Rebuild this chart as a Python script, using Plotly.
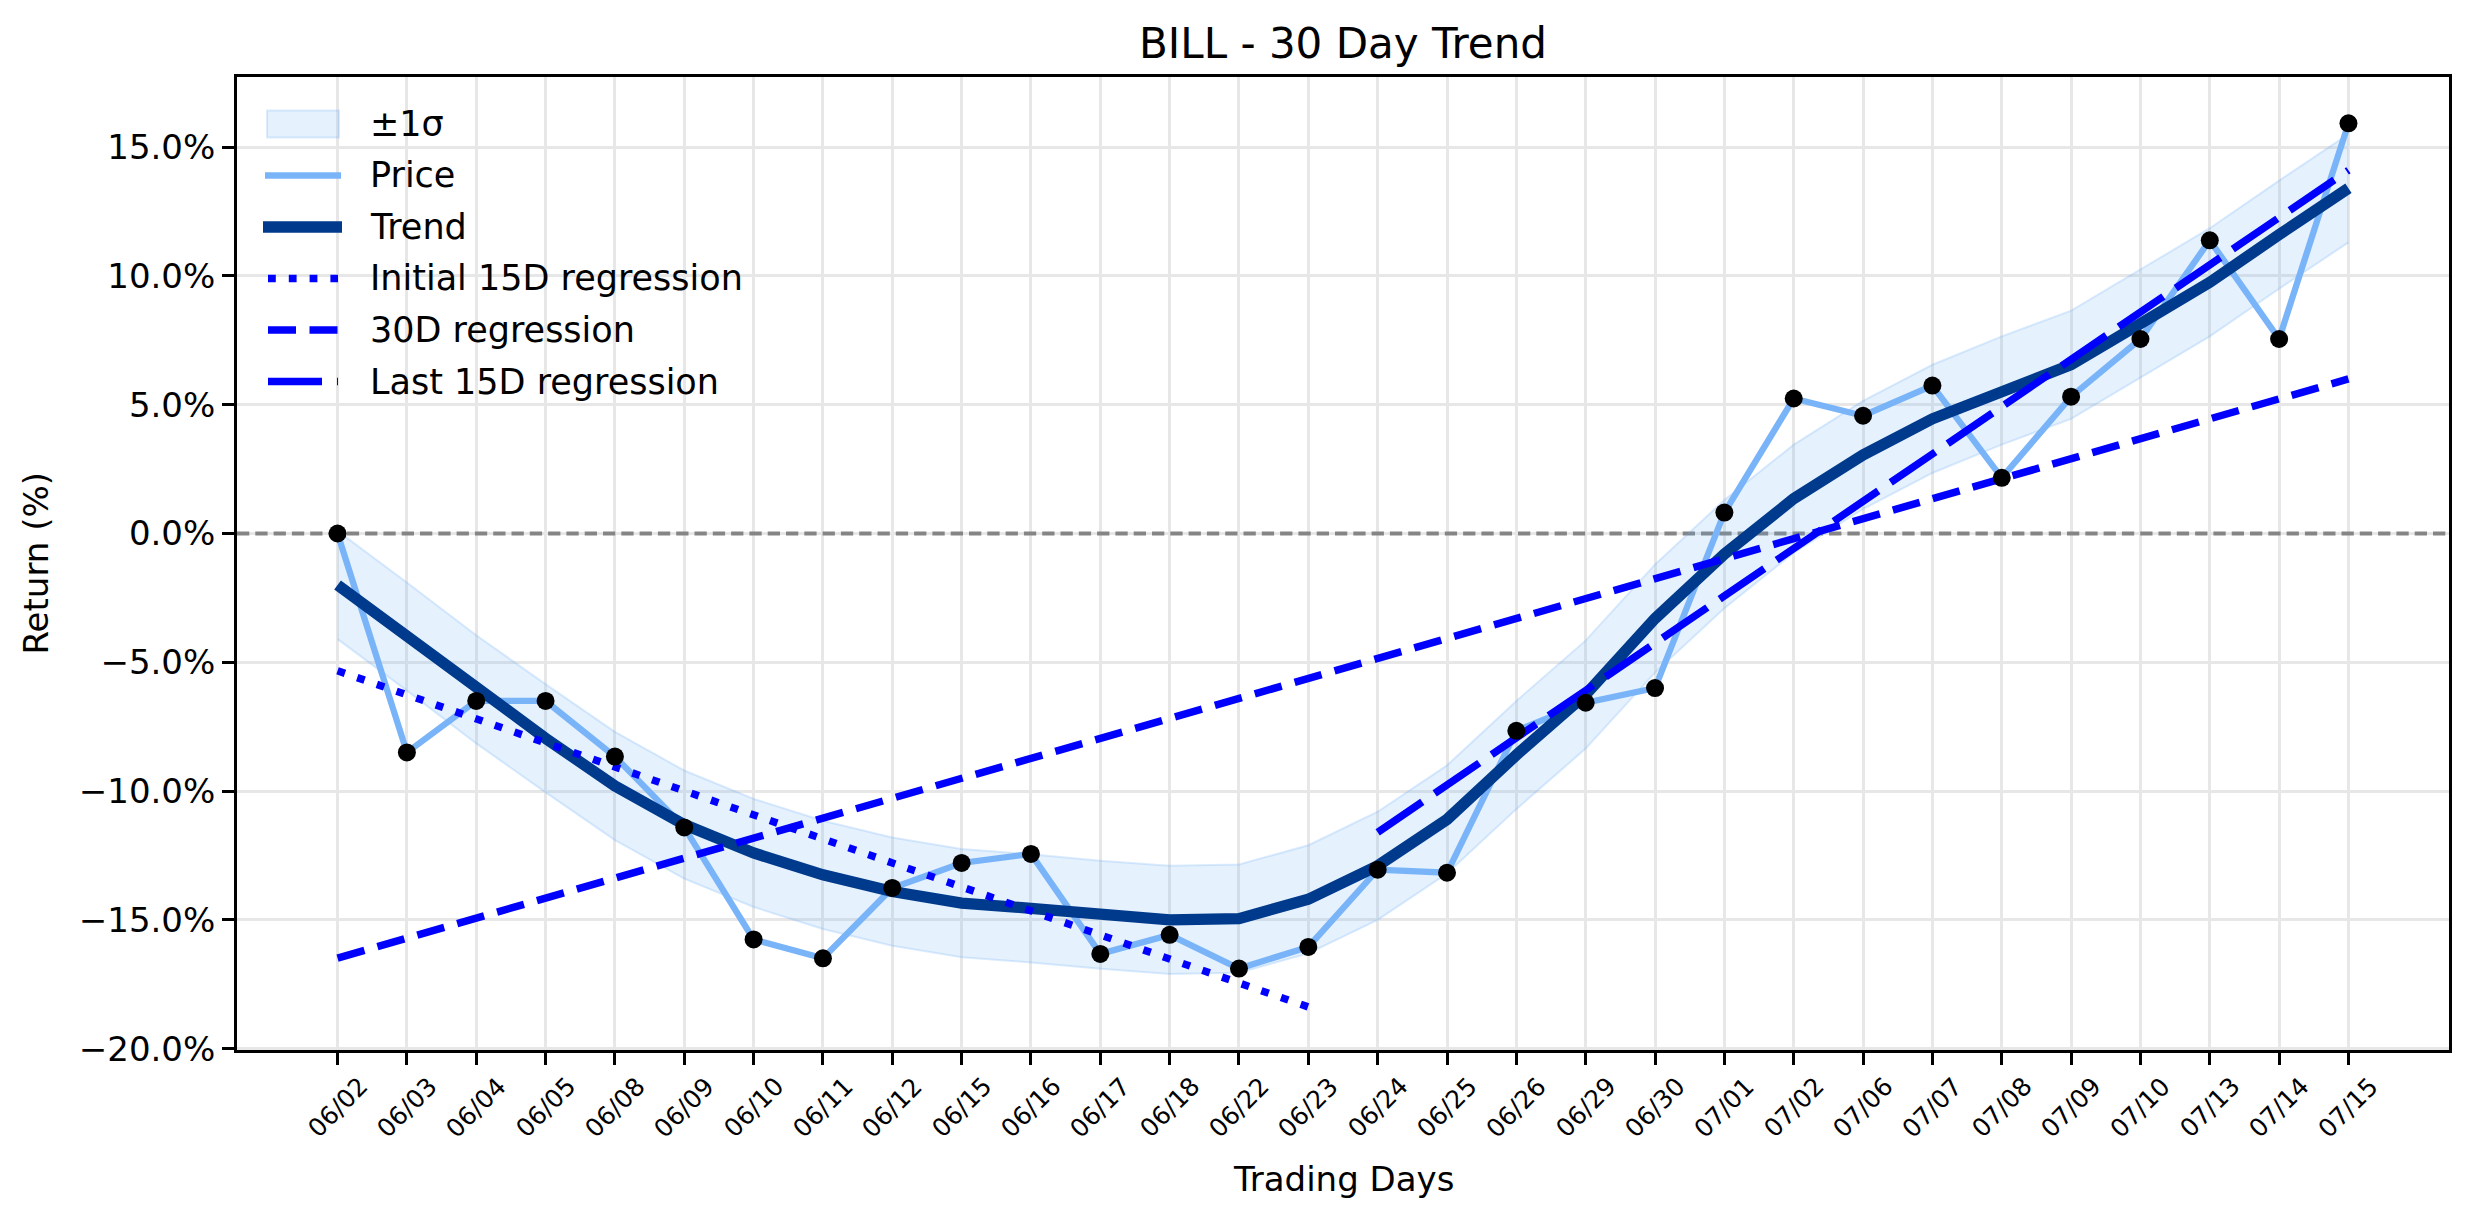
import plotly.graph_objects as go

# ---------------- data ----------------
dates = ["06/02", "06/03", "06/04", "06/05", "06/08", "06/09", "06/10", "06/11",
         "06/12", "06/15", "06/16", "06/17", "06/18", "06/22", "06/23", "06/24",
         "06/25", "06/26", "06/29", "06/30", "07/01", "07/02", "07/06", "07/07",
         "07/08", "07/09", "07/10", "07/13", "07/14", "07/15"]

price = [0.0, -8.50, -6.50, -6.50, -8.66, -11.41, -15.76, -16.49, -13.76, -12.79,
         -12.44, -16.32, -15.58, -16.89, -16.05, -13.05, -13.17, -7.66, -6.57, -6.00,
         0.81, 5.24, 4.57, 5.74, 2.16, 5.31, 7.55, 11.38, 7.55, 15.92]

trend = [-2.0, -4.0, -6.05, -7.95, -9.8, -11.3, -12.4, -13.25, -13.9, -14.35,
         -14.55, -14.8, -15.0, -14.95, -14.2, -12.9, -11.1, -8.6, -6.25, -3.3,
         -0.8, 1.35, 3.05, 4.45, 5.55, 6.55, 8.15, 9.75, 11.6, 13.4]

sigma = 2.1  # half-width of the ±1σ band around the trend

# regression lines: (start index, end index, start value, end value)
initial_reg = (0, 14, -5.33, -18.38)
full_reg = (0, 29, -16.48, 6.0)
last_reg = (15, 29, -11.6, 14.1)

y_tickvals = [-20, -15, -10, -5, 0, 5, 10, 15]
y_ticktext = ["\u221220.0%", "\u221215.0%", "\u221210.0%", "\u22125.0%",
              "0.0%", "5.0%", "10.0%", "15.0%"]

legend_labels = ["\u00b11\u03c3", "Price", "Trend", "Initial 15D regression",
                 "30D regression", "Last 15D regression"]

# ---------------- styles ----------------
FONT = "DejaVu Sans"
BAND = "rgba(100,170,245,0.17)"
BAND_EDGE = "rgba(100,170,245,0.22)"
PRICE_C = "#7ab4f8"
TREND_C = "#003a8c"
REG_C = "#0000ff"
DOT = "7.8px,13px"
DASH = "28px,13.5px"
LONG = "54px,15px"

# figure geometry (px)
W, H = 2474, 1224
L, R, T, B = 237, 25, 77, 174
PW, PH = W - L - R, H - T - B
X_RANGE = [-1.45, len(dates) - 1 + 1.45]


def px_x(px):
    return (px - L) / PW


def px_y(py):
    return 1 - (py - T) / PH


upper = [t + sigma for t in trend]
lower = [t - sigma for t in trend]

fig = go.Figure()

fig.add_trace(go.Scatter(x=dates, y=lower, mode="lines",
                         line=dict(color=BAND_EDGE, width=2),
                         showlegend=False, hoverinfo="skip"))
fig.add_trace(go.Scatter(x=dates, y=upper, mode="lines", fill="tonexty",
                         fillcolor=BAND, line=dict(color=BAND_EDGE, width=2),
                         name=legend_labels[0], showlegend=False))
fig.add_trace(go.Scatter(x=dates, y=price, mode="lines",
                         line=dict(color=PRICE_C, width=6.3),
                         name=legend_labels[1], showlegend=False))
fig.add_trace(go.Scatter(x=dates, y=trend, mode="lines",
                         line=dict(color=TREND_C, width=11.3),
                         name=legend_labels[2], showlegend=False))


def reg_trace(reg, name, dash):
    i0, i1, v0, v1 = reg
    return go.Scatter(x=[dates[i0], dates[i1]], y=[v0, v1], mode="lines",
                      line=dict(color=REG_C, width=7.5, dash=dash),
                      name=name, showlegend=False)


fig.add_trace(reg_trace(initial_reg, legend_labels[3], DOT))
fig.add_trace(reg_trace(full_reg, legend_labels[4], DASH))
fig.add_trace(reg_trace(last_reg, legend_labels[5], LONG))

fig.add_trace(go.Scatter(x=dates, y=price, mode="markers",
                         marker=dict(color="black", size=18),
                         showlegend=False))

# zero line (between gridlines and data)
fig.add_shape(type="line", xref="x", x0=X_RANGE[0], x1=X_RANGE[1], yref="y", y0=0, y1=0,
              line=dict(color="#858585", width=4, dash="12.3px,6px"),
              layer="between")

# ---------------- manual legend (matplotlib-like, no frame) ----------------
rows = [124, 175.5, 227, 278.5, 330, 381.5]
fig.add_shape(type="rect", xref="paper", yref="paper",
              x0=px_x(267), x1=px_x(339), y0=px_y(137.5), y1=px_y(110.5),
              fillcolor=BAND, line=dict(color=BAND_EDGE, width=2), layer="above")
handles = [(PRICE_C, 6.3, "solid", 265, 341),
           (TREND_C, 11.3, "solid", 263, 342),
           (REG_C, 7.5, DOT, 268, 338),
           (REG_C, 7.5, DASH, 268, 338),
           (REG_C, 7.5, LONG, 268, 338)]
for (col, w, dash, xa, xb), ry in zip(handles, rows[1:]):
    fig.add_shape(type="line", xref="paper", yref="paper",
                  x0=px_x(xa), x1=px_x(xb), y0=px_y(ry), y1=px_y(ry),
                  line=dict(color=col, width=w, dash=dash), layer="above")
for lab, ry in zip(legend_labels, rows):
    fig.add_annotation(x=px_x(368), y=px_y(ry), xref="paper", yref="paper",
                       text=lab, showarrow=False, xanchor="left", yanchor="middle",
                       font=dict(family=FONT, size=35, color="black"))

# x tick labels as centred rotated annotations
for d in dates:
    fig.add_annotation(x=d, y=0, xref="x", yref="paper", text=d,
                       showarrow=False, textangle=-45,
                       xanchor="center", yanchor="top", yshift=-19,
                       font=dict(family=FONT, size=25, color="black"))

fig.add_annotation(x=0.5, y=px_y(1179), xref="paper", yref="paper", text="Trading Days",
                   showarrow=False, xanchor="center", yanchor="middle",
                   font=dict(family=FONT, size=34, color="black"))
fig.add_annotation(x=px_x(35), y=0.5, xref="paper", yref="paper",
                   text="Return (%)", textangle=-90, showarrow=False,
                   xanchor="center", yanchor="middle",
                   font=dict(family=FONT, size=34, color="black"))

fig.update_layout(
    width=W, height=H,
    margin=dict(l=L, r=R, t=T, b=B),
    paper_bgcolor="white", plot_bgcolor="white",
    font=dict(family=FONT, color="black"),
    title=dict(text="BILL - 30 Day Trend", x=(L + PW / 2) / W, xanchor="center",
               y=1 - 43 / H, yanchor="middle", yref="container",
               font=dict(family=FONT, size=42, color="black")),
    showlegend=False,
)

fig.update_xaxes(type="category", categoryorder="array", categoryarray=dates,
                 range=X_RANGE, showticklabels=False,
                 ticks="outside", ticklen=12, tickwidth=2.8, tickcolor="black",
                 showgrid=True, gridcolor="#e7e7e7", gridwidth=2.8,
                 showline=True, linecolor="black", linewidth=2.8, mirror=True,
                 zeroline=False)
fig.update_yaxes(range=[-20.05, 17.72], tickvals=y_tickvals, ticktext=y_ticktext,
                 ticks="outside", ticklen=12, tickwidth=2.8, tickcolor="black",
                 tickfont=dict(family=FONT, size=34, color="black"),
                 showgrid=True, gridcolor="#e7e7e7", gridwidth=2.8,
                 showline=True, linecolor="black", linewidth=2.8, mirror=True,
                 zeroline=False)

fig.write_html("out.html")
